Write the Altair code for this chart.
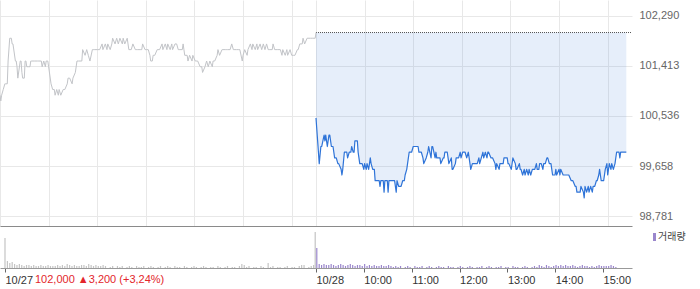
import altair as alt
import pandas as pd

# ---------------- data ----------------
# session minutes since 09:00 (10/27) and price
t1 = [0, 1, 2, 4, 6, 7, 9, 10, 12, 14,
      15, 16, 19, 20, 21, 22, 25, 26, 27, 28,
      30, 31, 32, 33, 35, 37, 38, 39, 43, 46,
      48, 51, 52, 54, 56, 57, 59, 60, 63, 65,
      67, 68, 70, 72, 73, 75, 78, 80, 83, 84,
      86, 89, 90, 93, 95, 97, 101, 102, 105, 107,
      109, 111, 114, 115, 117, 120, 121, 123, 126, 127,
      130, 132, 133, 136, 138, 139, 142, 144, 146, 148,
      151, 152, 154, 157, 158, 159, 162, 164, 167, 169,
      170, 173, 175, 176, 179, 181, 183, 185, 186, 188,
      189, 191, 194, 195, 197, 200, 201, 204, 206, 207,
      210, 212, 213, 216, 218, 220, 222, 225, 226, 227,
      228, 231, 232, 234, 237, 238, 241, 243, 244, 247,
      249, 250, 253, 255, 257, 259, 262, 263, 265, 268,
      269, 271, 274, 275, 278, 280, 281, 284, 286, 288,
      290, 292, 294, 296, 299, 300, 302, 305, 306, 309,
      311, 312, 315, 317, 318, 321, 323, 325, 327, 329,
      331, 333, 336, 337, 339, 342, 343, 346, 348, 349,
      352, 354, 355, 358, 360, 362, 364, 367, 368, 370,
      373, 374, 376, 379, 383, 386, 389, 390]
p1 = [100900, 100800, 100900, 101000, 101100, 101100, 101100, 101500, 101900, 101900,
      101800, 101800, 101500, 101500, 101400, 101200, 101500, 101500, 101300, 101200,
      101200, 101500, 101500, 101400, 101400, 101400, 101500, 101500, 101500, 101500,
      101500, 101500, 101400, 101500, 101400, 101500, 101500, 101400, 101100, 101000,
      101000, 100900, 101000, 100900, 101000, 100900, 101000, 101000, 101100, 101200,
      101200, 101100, 101200, 101300, 101500, 101500, 101500, 101700, 101600, 101700,
      101600, 101500, 101700, 101700, 101700, 101700, 101700, 101700, 101800, 101700,
      101800, 101700, 101800, 101700, 101800, 101900, 101800, 101900, 101800, 101900,
      101800, 101900, 101800, 101900, 101800, 101700, 101700, 101800, 101700, 101700,
      101700, 101700, 101700, 101800, 101700, 101700, 101700, 101600, 101500, 101500,
      101600, 101600, 101700, 101700, 101700, 101800, 101700, 101800, 101700, 101800,
      101700, 101800, 101700, 101800, 101800, 101700, 101700, 101700, 101800, 101700,
      101600, 101600, 101500, 101600, 101500, 101600, 101500, 101500, 101500, 101400,
      101400, 101300, 101400, 101500, 101400, 101500, 101400, 101500, 101500, 101600,
      101700, 101600, 101700, 101700, 101700, 101700, 101700, 101700, 101800, 101700,
      101700, 101700, 101700, 101700, 101500, 101600, 101700, 101600, 101700, 101800,
      101700, 101800, 101700, 101800, 101700, 101800, 101700, 101800, 101700, 101800,
      101700, 101700, 101700, 101800, 101700, 101700, 101700, 101700, 101600, 101700,
      101600, 101700, 101600, 101700, 101600, 101600, 101600, 101700, 101700, 101800,
      101800, 101900, 101800, 101900, 101900, 101900, 101900, 102000]

# minutes since 09:00 (10/28) and price
t2 = [0, 2, 4, 6, 7, 10, 11, 12, 14, 16,
      17, 19, 21, 23, 25, 27, 28, 31, 32, 33,
      35, 36, 38, 39, 41, 43, 44, 46, 47, 48,
      51, 52, 53, 54, 57, 59, 60, 62, 63, 65,
      67, 68, 70, 72, 73, 75, 78, 79, 80, 83,
      84, 85, 88, 89, 90, 93, 94, 95, 97, 99,
      100, 102, 104, 105, 107, 109, 110, 112, 114, 115,
      117, 118, 120, 122, 123, 126, 127, 130, 132, 133,
      136, 138, 139, 142, 143, 144, 147, 148, 149, 152,
      153, 154, 157, 158, 159, 162, 163, 164, 167, 168,
      169, 172, 173, 174, 176, 178, 179, 181, 183, 184,
      186, 188, 189, 191, 193, 194, 196, 197, 199, 201,
      202, 204, 206, 207, 209, 211, 212, 213, 216, 217,
      218, 221, 222, 223, 226, 227, 228, 231, 232, 233,
      236, 237, 238, 241, 242, 243, 246, 247, 248, 251,
      252, 253, 255, 257, 258, 260, 262, 263, 265, 267,
      268, 270, 272, 273, 275, 276, 278, 280, 281, 283,
      285, 286, 288, 290, 291, 292, 295, 296, 297, 300,
      301, 302, 305, 306, 307, 310, 311, 312, 315, 316,
      317, 320, 321, 322, 325, 326, 327, 330, 331, 332,
      334, 336, 337, 339, 341, 342, 344, 346, 347, 349,
      350, 352, 354, 355, 357, 359, 360, 362, 364, 365,
      367, 369, 370, 371, 374, 375, 376, 379, 380, 383]
p2 = [100500, 100100, 99700, 100000, 100000, 100200, 100100, 100200, 100000, 100200,
      100200, 100000, 100000, 99800, 99800, 99700, 99700, 99600, 99500, 99600,
      99900, 99900, 99900, 99800, 99900, 99900, 100000, 99900, 99900, 100100,
      100100, 99900, 99800, 99700, 99700, 99600, 99700, 99600, 99700, 99600,
      99800, 99700, 99600, 99600, 99400, 99400, 99400, 99300, 99400, 99400,
      99200, 99400, 99400, 99200, 99400, 99400, 99400, 99400, 99400, 99200,
      99400, 99300, 99300, 99300, 99400, 99400, 99500, 99600, 99800, 99900,
      99900, 99900, 100000, 100000, 100000, 100000, 99900, 99900, 99800, 99700,
      99800, 99900, 100000, 99800, 100000, 100000, 99800, 99900, 99800, 99800,
      99800, 99700, 99800, 99800, 99900, 99900, 99800, 99700, 99800, 99600,
      99600, 99700, 99800, 99800, 99800, 99900, 99800, 99900, 99900, 99900,
      99800, 99900, 99800, 99600, 99700, 99700, 99700, 99700, 99700, 99800,
      99700, 99800, 99900, 99800, 99900, 99800, 99900, 99900, 99800, 99800,
      99800, 99700, 99600, 99700, 99600, 99700, 99700, 99700, 99800, 99800,
      99800, 99700, 99700, 99600, 99700, 99800, 99700, 99600, 99600, 99700,
      99600, 99600, 99500, 99600, 99500, 99600, 99500, 99600, 99500, 99600,
      99600, 99600, 99700, 99600, 99600, 99700, 99700, 99600, 99700, 99700,
      99800, 99800, 99700, 99700, 99600, 99500, 99500, 99600, 99500, 99600,
      99500, 99600, 99500, 99500, 99500, 99500, 99500, 99500, 99400, 99400,
      99400, 99300, 99300, 99200, 99200, 99200, 99300, 99200, 99100, 99300,
      99200, 99300, 99200, 99300, 99200, 99300, 99300, 99400, 99400, 99500,
      99600, 99400, 99400, 99400, 99600, 99700, 99500, 99700, 99600, 99700,
      99600, 99700, 99800, 99900, 99900, 99800, 99900, 99900, 99900, 99900]

# volume (relative units), one bar per 3 minutes
vol1 = [30,
        7, 5, 6, 4, 3, 4, 3, 2, 3, 3,
        2, 3, 2, 2, 3, 2, 2, 3, 2, 2,
        2, 3, 2, 3, 2, 4, 3, 2, 3, 2,
        2, 3, 3, 2, 4, 3, 2, 3, 2, 2,
        3, 2, 0, 1, 2, 0, 2, 1, 2, 0,
        1, 2, 1, 0, 2, 1, 1, 2, 0, 1,
        2, 1, 0, 1, 2, 0, 1, 2, 1, 0,
        2, 1, 1, 0, 2, 1, 0, 1, 2, 1,
        0, 1, 2, 1, 0, 1, 1, 0, 2, 1,
        0, 1, 2, 0, 1, 1, 0, 2, 4, 3,
        1, 2, 0, 1, 1, 0, 2, 1, 0, 5,
        1, 2, 0, 1, 1, 0, 1, 2, 0, 1,
        1, 0, 2, 3, 3, 0, 1, 2, 3]
close_vol_t = [389]
close_vol = [36]
vol2 = [20,
        4, 3, 4, 3, 3, 4, 3, 2, 3, 4,
        3, 2, 3, 4, 3, 2, 3, 3, 2, 4,
        2, 3, 2, 3, 2, 2, 3, 2, 2, 3,
        2, 1, 2, 1, 2, 0, 1, 2, 1, 0,
        2, 1, 1, 2, 0, 1, 2, 1, 0, 1,
        2, 1, 1, 0, 2, 1, 1, 0, 1, 2,
        1, 0, 1, 2, 1, 0, 1, 1, 2, 0,
        1, 2, 1, 0, 1, 1, 2, 0, 1, 1,
        0, 2, 1, 1, 0, 1, 2, 1, 0, 1,
        2, 1, 3, 2, 1, 3, 2, 1, 2, 3,
        2, 3, 2, 3, 2, 2, 3, 2, 1, 2,
        3, 2, 2, 1, 2, 1, 2, 3, 2, 2,
        2, 2, 3, 2, 1, 0, 0]

PREV_CLOSE = 102000
Y_TICKS = [98781, 99658, 100536, 101413, 102290]
Y_DOMAIN = [98605.6, 102570.7]
X_DOMAIN = [0, 780]
GRID_X = [0, 60, 120, 180, 240, 300, 360, 390, 450, 510, 570, 630, 690, 750]
AXIS_X = [0, 390, 450, 510, 570, 630, 690, 750]
INFO_TEXT = "102,000 \u25B23,200 (+3,24%)"
LEGEND_TEXT = "거래량"

# ---------------- frames ----------------
df1 = pd.DataFrame({"t": t1, "price": p1})
df2 = pd.DataFrame({"t": [390 + m for m in t2], "price": p2, "base": [PREV_CLOSE] * len(t2)})
ref_df = pd.DataFrame({"t": [390], "t_end": [780], "price": [PREV_CLOSE]})
vdf1 = pd.DataFrame({"t": list(range(0, 390, 3)) + close_vol_t, "vol": vol1 + close_vol})
vdf2 = pd.DataFrame({"t": [391 + 3 * i for i in range(len(vol2))], "vol": vol2})
one = pd.DataFrame({"k": [0]})

W, H1, H2 = 632, 226, 42
FONT = "Liberation Sans"

xs = alt.Scale(domain=X_DOMAIN, nice=False, zero=False)
ys = alt.Scale(domain=Y_DOMAIN, nice=False, zero=False)

px_axis = alt.Axis(values=GRID_X, labels=False, ticks=False, domain=True, domainColor="#8a8a8a",
                   grid=True, gridColor="#e8e8e8", title=None)
py_axis = alt.Axis(orient="right", values=Y_TICKS, format=",d", labelColor="#666666",
                   labelFontSize=11, labelFont=FONT, ticks=False, labelPadding=7,
                   domain=False, grid=True, gridColor="#e8e8e8", title=None)


def xp(field="t:Q"):
    return alt.X(field, scale=xs, axis=px_axis)


def yp(field="price:Q"):
    return alt.Y(field, scale=ys, axis=py_axis)


area = alt.Chart(df2).mark_area(color="#3a78d8", opacity=0.13).encode(
    x=xp(), y=yp(), y2=alt.Y2("base:Q"))
ref = alt.Chart(ref_df).mark_rule(color="#555555", strokeDash=[1, 1], strokeWidth=1).encode(
    x=xp(), x2="t_end:Q", y=yp())
line1 = alt.Chart(df1).mark_line(color="#c2c4c8", strokeWidth=1, strokeJoin="round").encode(
    x=xp(), y=yp())
line2 = alt.Chart(df2).mark_line(color="#2f74d8", strokeWidth=1.2, strokeJoin="round").encode(
    x=xp(), y=yp())

price = alt.layer(area, ref, line1, line2).properties(width=W, height=H1)

label_expr = ("datum.value == 0 ? '10/27' : datum.value == 390 ? '10/28' : "
              "(floor((datum.value - 390) / 60) + 9) + ':00'")
vx_axis = alt.Axis(values=AXIS_X, labelExpr=label_expr, labelAlign="left",
                   labelFontSize=11, labelFont=FONT, labelColor="#333333",
                   tickSize=4, tickColor="#666666", domainColor="#999999",
                   grid=False, labelPadding=2, labelFlush=False,
                   labelOverlap=False, labelBound=False, title=None)
vs = alt.Scale(domain=[0, H2], nice=False)

bars1 = alt.Chart(vdf1).mark_bar(width=1.2, color="#c4c4c4").encode(
    x=alt.X("t:Q", scale=xs, axis=vx_axis), y=alt.Y("vol:Q", scale=vs, axis=None))
bars2 = alt.Chart(vdf2).mark_bar(width=1.2, color="#9a86cc").encode(
    x=alt.X("t:Q", scale=xs, axis=vx_axis), y=alt.Y("vol:Q", scale=vs, axis=None))
info = alt.Chart(one).mark_text(align="left", baseline="top", color="#e3262b", fontSize=11,
                                font=FONT).encode(
    x=alt.value(35), y=alt.value(H2 + 6), text=alt.value(INFO_TEXT))
leg_sq = alt.Chart(one).mark_rect(color="#9a86cc").encode(
    x=alt.value(653), x2=alt.value(656), y=alt.value(7), y2=alt.value(15))
leg_tx = alt.Chart(one).mark_text(align="left", baseline="middle", color="#444444", fontSize=10,
                                  font="Noto Sans CJK KR").encode(
    x=alt.value(658), y=alt.value(11), text=alt.value(LEGEND_TEXT))

volume = alt.layer(bars1, bars2, info, leg_sq, leg_tx).properties(width=W, height=H2)

chart = alt.vconcat(price, volume, spacing=0).properties(
    padding={"left": -1, "top": 0, "right": 0, "bottom": 0}
).configure_view(stroke=None)

chart.save("out.html", embed_options={"renderer": "svg", "actions": False})
